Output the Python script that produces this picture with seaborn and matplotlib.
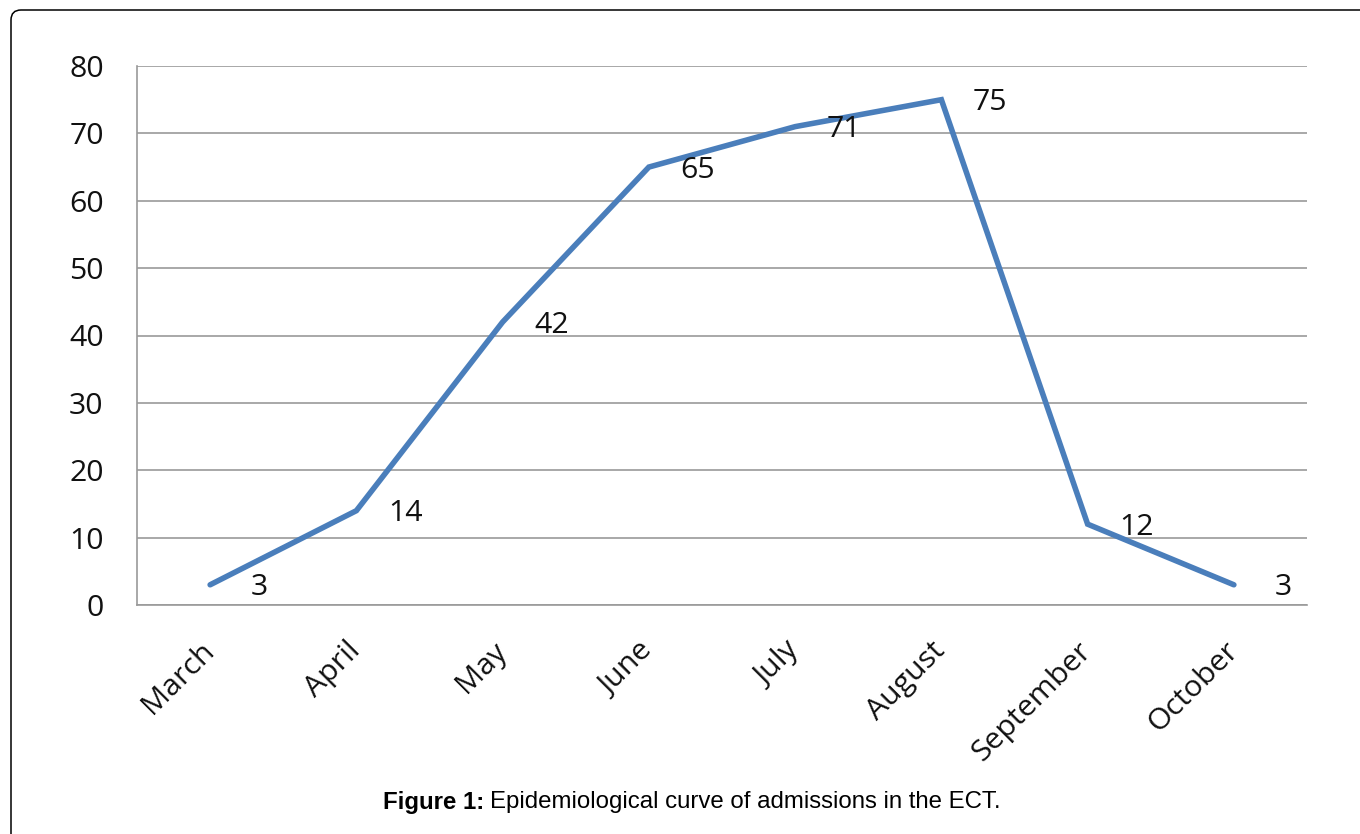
import matplotlib
matplotlib.use("Agg")
import matplotlib.pyplot as plt
import seaborn as sns
import pandas as pd
from matplotlib.patches import FancyBboxPatch

months = ["March", "April", "May", "June", "July", "August", "September", "October"]
admissions = [3, 14, 42, 65, 71, 75, 12, 3]
y_ticks = [0, 10, 20, 30, 40, 50, 60, 70, 80]

sns.set_theme(style="white")
plt.rcParams["font.family"] = ["Open Sans", "DejaVu Sans"]

W, H = 1360, 834
fig = plt.figure(figsize=(W / 100, H / 100), dpi=100)
ax = fig.add_axes([137 / W, 1 - 605 / H, (1307 - 137) / W, (605 - 66) / H])

df = pd.DataFrame({"x": [i + 0.5 for i in range(len(months))], "y": admissions})
sns.lineplot(data=df, x="x", y="y", ax=ax, color="#4A7EBB", linewidth=4.0,
             solid_joinstyle="miter", solid_capstyle="round")

FS = 21.8
ax.set_xlim(0, len(months))
ax.set_ylim(0, 80)
ax.set_yticks(y_ticks)
ax.set_yticklabels([str(v) for v in y_ticks], fontsize=FS, color="#111111")
ax.set_xticks(df["x"])
ax.set_xticklabels(months, fontsize=FS, color="#111111", rotation=45,
                   ha="right", va="center", rotation_mode="anchor")
ax.tick_params(axis="y", length=0, pad=24)
ax.tick_params(axis="x", length=0, pad=30)
ax.set_xlabel("")
ax.set_ylabel("")
ax.yaxis.grid(True, color="#9A9A9A", linewidth=1.2)
ax.xaxis.grid(False)
for s in ["top", "right"]:
    ax.spines[s].set_visible(False)
for s in ["left", "bottom"]:
    ax.spines[s].set_color("#9A9A9A")
    ax.spines[s].set_linewidth(1.2)

for xv, yv in zip(df["x"], admissions):
    ax.annotate(str(yv), (xv, yv), xytext=(49, -3), textcoords="offset pixels",
                ha="center", va="center", fontsize=FS, color="#111111")

# border
border = FancyBboxPatch((11, -40), W + 40, (H - 10) + 40, boxstyle="round,pad=0,rounding_size=10",
                        transform=None, fill=False, edgecolor="black", linewidth=1.1)
fig.patches.append(border)

# caption
fig.canvas.draw()
r = fig.canvas.get_renderer()
CFS = 17.3
t1 = fig.text(383 / W, 1 - 802 / H, "Figure 1:", fontsize=CFS, fontweight="bold",
              family="Liberation Sans", ha="left", va="center", color="black")
bb = t1.get_window_extent(renderer=r)
fig.text((bb.x1 + 6) / W, 1 - 802 / H, "Epidemiological curve of admissions in the ECT.",
         fontsize=CFS, family="Liberation Sans", ha="left", va="center", color="black")

fig.savefig("out.png", dpi=100)
